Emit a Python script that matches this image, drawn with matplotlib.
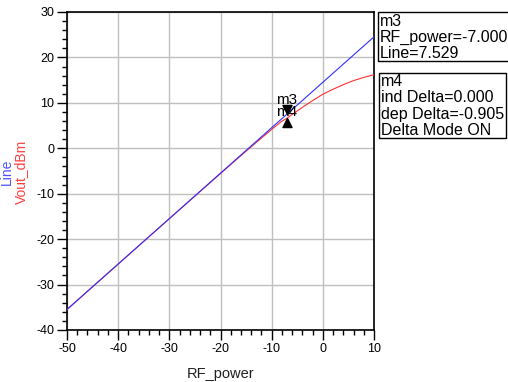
#!/usr/bin/env python3
"""
Line vs Vout_dBm sweep over RF_power, with m3 / m4 marker readouts
"""

import matplotlib
matplotlib.use("Agg")
import matplotlib.pyplot as plt
from matplotlib.patches import Rectangle

plt.rcParams['font.family'] = ['Liberation Sans', 'DejaVu Sans']
plt.rcParams['axes.unicode_minus'] = False

# sweep data
rf_power = [-50, -45, -40, -35, -30, -25, -20, -18, -16, -14, -12, -10,
            -8, -7, -6, -4, -2, 0, 2, 4, 6, 8, 10]
vout_dbm = [-35.50, -30.50, -25.50, -20.50, -15.51, -10.53, -5.56, -3.58,
            -1.61, 0.33, 2.25, 4.15, 5.98, 6.624, 7.45, 9.00, 10.50, 11.90,
            13.00, 14.00, 14.90, 15.60, 16.20]
line_x = [-50, -7, 10]
line_y = [-35.471, 7.529, 24.529]

m3 = (-7.0, 7.529)
m4 = (-7.0, 6.624)
m3_text = ["m3", "RF_power=-7.000", "Line=7.529"]
m4_text = ["m4", "ind Delta=0.000", "dep Delta=-0.905", "Delta Mode ON"]

W, H = 508, 382

fig = plt.figure(figsize=(W / 100, H / 100), dpi=100)
ax = fig.add_axes([67 / W, 1 - 330 / H, (374 - 67) / W, (330 - 12) / H])

ax.plot(rf_power, vout_dbm, color='#ff3030', linewidth=0.8, zorder=3)
ax.plot(line_x, line_y, color='#3030ff', linewidth=0.8, zorder=4)

# marker triangles with the tip on the data point
down_tri = [(0, 0), (-1, 2), (1, 2), (0, 0)]
up_tri = [(0, 0), (-1, -2), (1, -2), (0, 0)]
ax.plot(*m3, marker=down_tri, markersize=13, color='black', zorder=5)
ax.plot(*m4, marker=up_tri, markersize=13, color='black', zorder=5)
ax.annotate("m3", xy=m3, xytext=(0, 10), textcoords='offset points',
            ha='center', va='center', fontsize=11, zorder=6)
ax.annotate("m4", xy=m4, xytext=(0, 4.5), textcoords='offset points',
            ha='center', va='center', fontsize=11, zorder=6)

ax.set_xlim(-50, 10)
ax.set_ylim(-40, 30)
ax.set_xticks(range(-50, 11, 10))
ax.set_yticks(range(-40, 31, 10))
ax.set_xticks(range(-50, 11, 2), minor=True)
ax.set_yticks(range(-40, 31, 2), minor=True)
ax.tick_params(which='major', direction='out', length=7, width=1, labelsize=9, pad=2)
ax.tick_params(which='minor', direction='out', length=3.5, width=1)
ax.grid(True, which='major', color='#c0c0c0', linewidth=1)
for s in ax.spines.values():
    s.set_color('black')
    s.set_linewidth(1.2)

ax.set_xlabel("RF_power", fontsize=10.5, color='#202020', labelpad=9)

# two-colour y label
fig.text(7 / W, 1 - 172 / H, "Line", rotation=90, color='#5050ff',
         fontsize=10, ha='center', va='center')
fig.text(21 / W, 1 - 172 / H, "Vout_dBm", rotation=90, color='#ff4040',
         fontsize=10, ha='center', va='center')

# marker readout boxes
fig.patches.append(Rectangle((378 / W, 1 - 61 / H), 140 / W, 49 / H,
                             transform=fig.transFigure, fill=False,
                             edgecolor='black', linewidth=1))
for i, t in enumerate(m3_text):
    fig.text(380 / W, 1 - (21 + 16 * i) / H, t, fontsize=11.5, va='center')

fig.patches.append(Rectangle((379 / W, 1 - 138 / H), 127 / W, 65 / H,
                             transform=fig.transFigure, fill=False,
                             edgecolor='black', linewidth=1))
for i, t in enumerate(m4_text):
    fig.text(381 / W, 1 - (82 + 16 * i) / H, t, fontsize=11.5, va='center')

fig.savefig("out.png", dpi=100)
